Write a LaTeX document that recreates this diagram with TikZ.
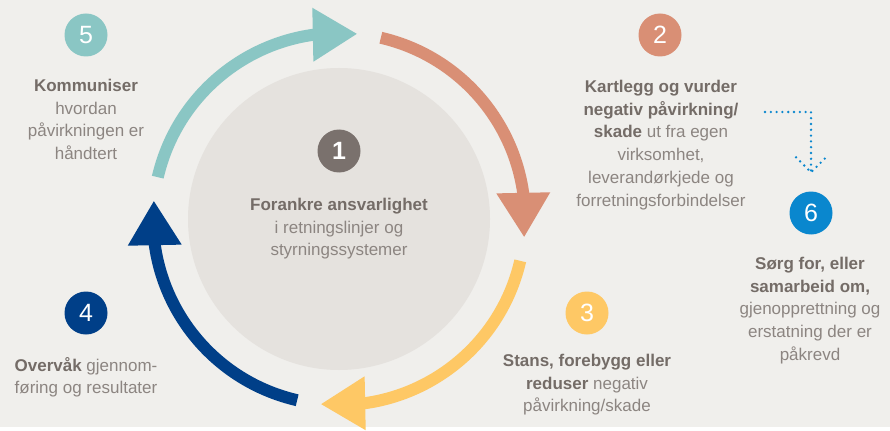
\documentclass[tikz,border=0pt]{standalone}
\usepackage{fontspec}
\setmainfont{Liberation Sans}
\usetikzlibrary{arrows.meta,bending}
\definecolor{bgcol}{HTML}{F0EFEC}
\definecolor{corecol}{HTML}{E5E2DE}
\definecolor{tealcol}{HTML}{8AC6C4}
\definecolor{orangecol}{HTML}{D98F75}
\definecolor{yellowcol}{HTML}{FEC865}
\definecolor{bluecol}{HTML}{003F88}
\definecolor{greycol}{HTML}{7A716D}
\definecolor{skyblue}{HTML}{0A87CE}
\definecolor{txtdark}{HTML}{746C67}
\definecolor{txtlight}{HTML}{8C8581}
\newcommand\kw[1]{{\bfseries\color{txtdark}#1}}
\begin{document}
\begin{tikzpicture}[x=1pt, y=-1pt,
  txt/.style={align=center,inner sep=0pt,anchor=north,text=txtlight,font=\fontsize{17}{22.7}\selectfont},
  num/.style={circle,inner sep=0pt,minimum size=43pt,text=white,font=\fontsize{25}{25}\selectfont},
  ring/.style={line width=12pt,-{Triangle[length=44pt,width=54pt,line width=0pt]}}]
\fill[bgcol] (0,0) rectangle (890,427);
\node[circle,fill=corecol,minimum size=302pt,inner sep=0pt] (core) at (339,219) {};
% ring of arrows
\draw[ring,tealcol] (core.center) ++(-167:186) arc[start angle=-167,end angle=-84.5,radius=186];
\draw[ring,orangecol] (core.center) ++(-77:186) arc[start angle=-77,end angle=5.5,radius=186];
\draw[ring,yellowcol] (core.center) ++(13:186) arc[start angle=13,end angle=95.5,radius=186];
\draw[ring,bluecol] (core.center) ++(103:186) arc[start angle=103,end angle=185.5,radius=186];
% numbers
\node[num,fill=greycol,font=\fontsize{25}{25}\selectfont\bfseries] (n1) at (339,151) {1};
\node[num,fill=orangecol] (n2) at (660,35) {2};
\node[num,fill=yellowcol] (n3) at (587,313) {3};
\node[num,fill=bluecol] (n4) at (86,313) {4};
\node[num,fill=tealcol] (n5) at (86,35) {5};
\node[num,fill=skyblue] (n6) at (811,213) {6};
% texts
\node[txt] (t1) at (339,198) {\kw{Forankre ansvarlighet}\\i retningslinjer og\\styrningssystemer};
\node[txt] (t2) at (661,80) {\kw{Kartlegg og vurder}\\\kw{negativ påvirkning/}\\\kw{skade} ut fra egen\\virksomhet,\\leverandørkjede og\\forretningsforbindelser};
\node[txt] (t3) at (587,354) {\kw{Stans, forebygg eller}\\\kw{reduser} negativ\\påvirkning/skade};
\node[txt] (t4) at (86,357) {\kw{Overvåk} gjennom-\\føring og resultater};
\node[txt] (t5) at (86,79) {\kw{Kommuniser}\\hvordan\\påvirkningen er\\håndtert};
\node[txt] (t6) at (810,257) {\kw{Sørg for, eller}\\\kw{samarbeid om,}\\gjenopprettning og\\erstatning der er\\påkrevd};
% dotted link 2 -> 6
\coordinate (d1) at (765,112);
\coordinate (d2) at ([yshift=19pt]n6.north);
\draw[skyblue,line width=2.6pt,line cap=round,dash pattern=on 0pt off 5.8pt]
  (d1) -| (d2) ++(-15,-15) -- (d2) -- ++(15,-15);
\end{tikzpicture}
\end{document}
